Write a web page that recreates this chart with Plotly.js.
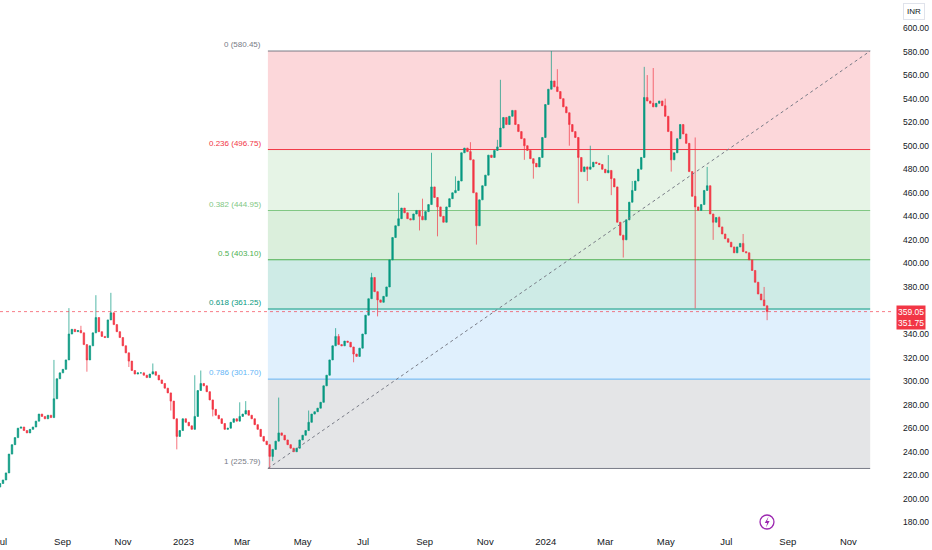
<!DOCTYPE html>
<html>
<head>
<meta charset="utf-8">
<script src="https://cdn.plot.ly/plotly-3.0.1.min.js"></script>
<style>
  html, body { margin: 0; padding: 0; background: #ffffff; }
  #chart { width: 932px; height: 550px; }
</style>
</head>
<body>
<div id="chart"></div>
<script>
// one candle every ~3 days, first one at the left edge (end of Jun 2022)
const startDate = '2022-06-30';
const stepDays = 3.02;
const firstOpen = 210;

// closes, left to right
const closes = [
  213, 216, 222, 238, 246, 252, 260, 261, 258, 256,
  259, 261, 266, 272, 270, 268, 271, 269, 285, 302,
  307, 310, 318, 340, 344, 342, 343, 341, 331, 318,
  330, 341, 354, 342, 338, 337, 352, 358, 348, 342,
  337, 330, 324, 317, 309, 306, 307, 307, 305, 303,
  306, 308, 305, 301, 298, 294, 290, 283, 268, 253,
  258, 268, 265, 262, 259, 270, 292, 298, 296, 291,
  284, 276, 271, 268, 264, 259, 260, 265, 268, 266,
  270, 272, 275, 271, 268, 263, 259, 253, 249, 246,
  236, 242, 249, 256, 254, 250, 246, 243, 240, 243,
  250, 254, 258, 265, 272, 274, 277, 282, 296, 305,
  318, 330, 338, 331, 330, 334, 333, 329, 323, 321,
  328, 340, 356, 370, 388, 376, 369, 367, 372, 380,
  403, 422, 432, 438, 447, 443, 438, 437, 442, 445,
  440, 437, 444, 450, 465, 456, 448, 440, 435, 448,
  455, 460, 462, 470, 494, 498, 495, 488, 460, 432,
  454, 466, 475, 492, 490, 496, 499, 515, 524, 518,
  525, 530, 518, 512, 506, 500, 496, 489, 485, 482,
  490, 507, 535, 548, 555, 550, 546, 540, 533, 528,
  518, 512, 507, 490, 478, 482, 480, 482, 486, 485,
  484, 480, 477, 479, 472, 465, 435, 424, 420, 437,
  452, 462, 470, 480, 490, 541, 538, 536, 533, 536,
  538, 534, 525, 512, 488, 494, 506, 518, 510, 502,
  478, 457, 448, 445, 450, 462, 466, 442, 435, 439,
  431, 425, 421, 418, 414, 409, 414, 417, 410, 409,
  403, 394, 384, 374, 369, 364, 359.05
];

// wicks that stick out of the bodies (candle index, high, low)
const wickIdx  = [18, 23, 27, 29, 32, 37, 43, 51, 57, 59, 65, 67, 71, 80, 82, 90, 91, 93, 103, 112,
  113, 118, 124, 126, 133, 140, 141, 144, 146, 152, 157, 159, 166, 167, 175, 178, 184, 186, 190, 193,
  196, 197, 203, 204, 208, 211, 215, 216, 218, 222, 224, 232, 236, 238, 240, 248, 255, 256];
const wickHigh = [318, 362, 347, null, 373, 375, null, 315, null, null, 305, 309, null, 282, 283, null, null, 286, 275, 345,
  340, null, 392, null, 460, null, 455, 494, null, 474, 503, null, 505, 556, null, null, 580.45, 565, null, null,
  null, 500, 492, null, null, 470, 567, 560, 566, 540, null, 507, 482, null, 440, 425, 380, null];
const wickLow  = [null, null, null, 308, null, null, 312, null, 275, 242, null, null, 270, null, null, 225.79, 232, null, null, null,
  null, 316, null, 355, null, 428, null, null, 423, null, null, 416, null, null, 488, 472, null, null, 500, 451,
  470, null, null, 458, 405, null, null, null, null, null, 478, 361.8, null, 420, null, null, null, 351.75];

// Fibonacci retracement
const fibStart = '2023-03-27';
const fibEnd = '2024-11-23';
const fibRatios = ['0', '0.236', '0.382', '0.5', '0.618', '0.786', '1'];
const fibPrices = [580.45, 496.75, 444.95, 403.10, 361.25, 301.70, 225.79];
const fibColors = ['#787b86', '#f23645', '#81c784', '#4caf50', '#089981', '#64b5f6', '#787b86'];

const lastPrice = 359.05;
const lastLow = 351.75;

const monthTicks = ['2022-07-01', '2022-09-01', '2022-11-01', '2023-01-01', '2023-03-01', '2023-05-01', '2023-07-01',
  '2023-09-01', '2023-11-01', '2024-01-01', '2024-03-01', '2024-05-01', '2024-07-01', '2024-09-01', '2024-11-01'];
const monthLabels = ['Jul', 'Sep', 'Nov', '2023', 'Mar', 'May', 'Jul', 'Sep', 'Nov', '2024', 'Mar', 'May', 'Jul', 'Sep', 'Nov'];

// 360.00 sits under the red price badge, so it is not shown
const priceTicks = [180, 200, 220, 240, 260, 280, 300, 320, 340, 380, 400, 420, 440, 460, 480, 500, 520, 540, 560, 580, 600];

const FONT = 'Liberation Sans, Arial, sans-serif';

// build OHLC, open = previous close
const t0 = new Date(startDate + 'T00:00:00Z').getTime();
const dates = [], opens = [], highs = [], lows = [];
closes.forEach((c, i) => {
    const o = i === 0 ? firstOpen : closes[i - 1];
    dates.push(new Date(t0 + i * stepDays * 86400000).toISOString());
    opens.push(o);
    highs.push(Math.max(o, c));
    lows.push(Math.min(o, c));
});
wickIdx.forEach((k, j) => {
    if (wickHigh[j] !== null) highs[k] = wickHigh[j];
    if (wickLow[j] !== null) lows[k] = wickLow[j];
});

function hexA(hex, a) {
    const n = parseInt(hex.slice(1), 16);
    return 'rgba(' + (n >> 16) + ',' + ((n >> 8) & 255) + ',' + (n & 255) + ',' + a + ')';
}

// plot area is 893 x 530 px, helpers for the little badge
const px = x => (x / 893).toFixed(4);
const py = y => ((530 - y) / 530).toFixed(4);

const shapes = [];
const annotations = [];
for (let k = 1; k < fibPrices.length; k++) {
    shapes.push({
        type: 'rect', xref: 'x', yref: 'y', layer: 'below',
        x0: fibStart, x1: fibEnd, y0: fibPrices[k], y1: fibPrices[k - 1],
        fillcolor: hexA(fibColors[k], 0.2), line: { width: 0 }
    });
}
fibPrices.forEach((p, k) => {
    shapes.push({
        type: 'line', xref: 'x', yref: 'y', layer: 'below',
        x0: fibStart, x1: fibEnd, y0: p, y1: p,
        line: { color: fibColors[k], width: 1 }
    });
    annotations.push({
        xref: 'x', yref: 'y', x: fibStart, y: p,
        xanchor: 'right', yanchor: 'bottom', xshift: -5, yshift: 0,
        text: fibRatios[k] + ' (' + p.toFixed(2) + ')',
        showarrow: false, font: { family: FONT, size: 8, color: fibColors[k] }
    });
});
// trend line of the fib tool
shapes.push({
    type: 'line', xref: 'x', yref: 'y', layer: 'above',
    x0: fibStart, y0: fibPrices[6], x1: fibEnd, y1: fibPrices[0],
    line: { color: '#787b86', width: 1, dash: '3px,3px' }
});
// last price line
shapes.push({
    type: 'line', xref: 'paper', yref: 'y', layer: 'above',
    x0: 0, x1: 1, y0: lastPrice, y1: lastPrice,
    line: { color: 'rgba(242,54,69,0.65)', width: 1, dash: 'dot' }
});
// events badge
shapes.push({
    type: 'circle', xref: 'paper', yref: 'paper',
    x0: px(760), x1: px(774), y0: py(529), y1: py(515),
    line: { color: '#9c27b0', width: 1.3 }, fillcolor: '#ffffff'
});
shapes.push({
    type: 'path', xref: 'paper', yref: 'paper',
    path: 'M' + px(768.6) + ',' + py(516.5) + ' L' + px(764.8) + ',' + py(523) + ' L' + px(767.2) + ',' + py(523) +
          ' L' + px(766) + ',' + py(527.5) + ' L' + px(769.6) + ',' + py(521) + ' L' + px(767.1) + ',' + py(521) + ' Z',
    line: { width: 0 }, fillcolor: '#9c27b0'
});
annotations.push({
    xref: 'x', yref: 'paper', x: monthTicks[0], y: 0, yanchor: 'middle', yshift: -11,
    text: monthLabels[0], showarrow: false, font: { family: FONT, size: 9.5, color: '#131722' }
});
annotations.push({
    xref: 'paper', yref: 'y', x: 1, y: (lastPrice + lastLow) / 2 - 1.5,
    xanchor: 'left', yanchor: 'middle', xshift: 3,
    text: lastPrice.toFixed(2) + '<br>' + lastLow.toFixed(2),
    showarrow: false, bgcolor: '#f23645', borderpad: 1,
    font: { family: FONT, size: 8.5, color: '#ffffff' }
});
annotations.push({
    xref: 'paper', yref: 'paper', x: 1, y: 0.978,
    xanchor: 'left', yanchor: 'middle', xshift: 10,
    text: 'INR', showarrow: false, bordercolor: '#e0e3eb', borderwidth: 1, borderpad: 3,
    font: { family: FONT, size: 8, color: '#131722' }
});

Plotly.newPlot('chart', [{
    type: 'candlestick',
    x: dates, open: opens, high: highs, low: lows, close: closes,
    increasing: { line: { color: '#089981', width: 0.7 }, fillcolor: '#089981' },
    decreasing: { line: { color: '#f23645', width: 0.7 }, fillcolor: '#f23645' },
    hoverinfo: 'skip'
}], {
    width: 932, height: 550,
    margin: { l: 0, r: 39, t: 0, b: 20 },
    paper_bgcolor: '#ffffff', plot_bgcolor: '#ffffff',
    font: { family: FONT, size: 9.5, color: '#131722' },
    showlegend: false,
    xaxis: {
        type: 'date', range: ['2022-06-30', '2024-12-16'],
        rangeslider: { visible: false },
        tickvals: monthTicks.slice(1), ticktext: monthLabels.slice(1),
        showgrid: false, zeroline: false, showline: false, ticks: '',
        ticklabelstandoff: 4,
        tickfont: { family: FONT, size: 9.5, color: '#131722' }
    },
    yaxis: {
        side: 'right', range: [173.5, 623.8],
        tickvals: priceTicks, tickformat: '.2f',
        showgrid: false, zeroline: false, showline: false, ticks: '',
        ticklabelstandoff: 9,
        tickfont: { family: FONT, size: 8.5, color: '#131722' }
    },
    shapes: shapes,
    annotations: annotations
}, { staticPlot: true });
</script>
</body>
</html>
